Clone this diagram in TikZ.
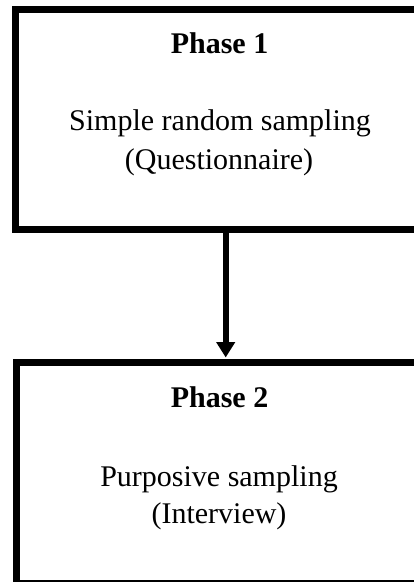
\documentclass[tikz,border=0pt]{standalone}
\usepackage{fontspec}
\setmainfont{Liberation Serif}
\usetikzlibrary{arrows.meta,calc}
\begin{document}
\begin{tikzpicture}[x=0.75pt,y=-0.75pt,
  phasebox/.style={draw=black,line width=5.25pt,rectangle,inner sep=0pt,
    minimum width=306pt,minimum height=165pt},
  title/.style={anchor=base,inner sep=0pt,font=\fontsize{22.5}{27}\selectfont\bfseries},
  body/.style={anchor=base,inner sep=0pt,font=\fontsize{22.5}{27}\selectfont},
  flow/.style={line width=4.5pt,-{Triangle[width=13.5pt,length=11.5pt]}}]
\useasboundingbox (0,0) rectangle (414,582);
\clip (0,0) rectangle (414,582);

% the two phase boxes
\node[phasebox] (phase1) at (219.5,119) {};
\node[phasebox,minimum width=304.5pt,minimum height=165.4pt] (phase2) at (219.5,473.25) {};

% phase 1 text
\node[title] (t1) at (219.5,53) {Phase 1};
\node[body] (s1) at (220,130) {Simple random sampling};
\node[body] (q1) at (219,169) {(Questionnaire)};

% phase 2 text
\node[title] (t2) at (219.5,407) {Phase 2};
\node[body] (s2) at (219,486) {Purposive sampling};
\node[body] (q2) at (219,523) {(Interview)};

% connector between the phases
\draw[flow] ($(phase1.south)+(6.2,-3)$) -- ($(phase2.north)+(6.2,-2)$);
\end{tikzpicture}
\end{document}
